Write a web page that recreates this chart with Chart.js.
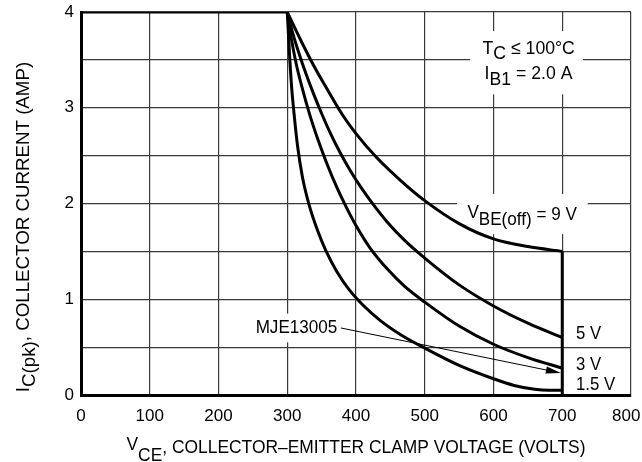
<!DOCTYPE html>
<html lang="en">
<head>
  <meta charset="UTF-8">
  <title>Reverse Bias Switching Safe Operating Area</title>
  <script src="https://cdn.jsdelivr.net/npm/chart.js"></script>
  <style>
    body {
      margin: 0;
      background: #fff;
    }
    #wrap {
      width: 642px;
      height: 462px;
    }
  </style>
</head>
<body>
  <div id="wrap">
    <canvas id="rbsoa" width="642" height="462"></canvas>
  </div>

  <script>
    // curves (VCE in volts, IC in amps)
    const vce15 = [300, 303, 306, 310, 315, 322, 332, 344, 356, 372, 390, 410, 435, 465, 500, 550, 600, 630, 660, 680, 700];
    const ic15  = [4.0, 3.6, 3.25, 2.93, 2.6, 2.28, 1.98, 1.72, 1.51, 1.29, 1.1, 0.94, 0.78, 0.63, 0.49, 0.31, 0.17, 0.1, 0.06, 0.05, 0.05];

    const vce3 = [300, 306, 313, 322, 333, 345, 358, 372, 386, 400, 420, 445, 470, 500, 550, 600, 650, 700];
    const ic3  = [4.0, 3.72, 3.46, 3.2, 2.92, 2.66, 2.41, 2.17, 1.96, 1.77, 1.54, 1.32, 1.14, 0.97, 0.72, 0.53, 0.39, 0.28];

    const vce5 = [300, 308, 317, 327, 338, 350, 363, 377, 392, 408, 425, 445, 470, 500, 550, 600, 650, 700];
    const ic5  = [4.0, 3.78, 3.57, 3.36, 3.15, 2.94, 2.73, 2.53, 2.34, 2.16, 1.99, 1.81, 1.62, 1.43, 1.15, 0.93, 0.75, 0.6];

    const vce9 = [300, 320, 340, 360, 380, 400, 430, 465, 500, 550, 600, 650, 700];
    const ic9  = [4.0, 3.7, 3.42, 3.17, 2.93, 2.73, 2.48, 2.24, 2.03, 1.79, 1.63, 1.55, 1.5];

    // flat 4 A limit and the 700 V clamp edge
    const limitVce = [0, 300];
    const limitIc  = [4, 4];
    const clampVce = [700, 700];
    const clampIc  = [1.5, 0];

    const curveNames = ['1.5 V', '3 V', '5 V', '9 V'];
    const xTicks = [0, 100, 200, 300, 400, 500, 600, 700, 800];
    const yTicks = [0, 1, 2, 3, 4];

    const FONT = '"Liberation Sans", Arial, sans-serif';

    const pts = (xs, ys) => xs.map((x, i) => ({ x: x, y: ys[i] }));

    function curve(label, xs, ys) {
      return {
        label: label,
        data: pts(xs, ys),
        borderColor: '#000',
        borderWidth: 3,
        pointRadius: 0,
        cubicInterpolationMode: 'monotone',
        fill: false
      };
    }

    // text with subscript pieces, squeezed a little to look like the narrow datasheet face
    function rich(ctx, parts, x, y, align, sx) {
      let w = 0;
      parts.forEach(p => { w += ctx.measureText(p.t).width; });
      ctx.save();
      ctx.translate(x, y);
      ctx.scale(sx, 1);
      let cx = align === 'center' ? -w / 2 : 0;
      parts.forEach(p => {
        ctx.fillText(p.t, cx, p.dy || 0);
        cx += ctx.measureText(p.t).width;
      });
      ctx.restore();
    }

    const whiteBoxes = [
      { x1: 566, x2: 730, y1: 3.14, y2: 3.8 },
      { x1: 547, x2: 737, y1: 1.68, y2: 2.1 },
      { x1: 245, x2: 381, y1: 0.55, y2: 0.85 }
    ];

    const notes = {
      id: 'notes',
      beforeDatasetsDraw(chart) {
        const { ctx, scales: { x, y } } = chart;
        ctx.save();
        ctx.fillStyle = '#fff';
        whiteBoxes.forEach(b => {
          const l = x.getPixelForValue(b.x1), r = x.getPixelForValue(b.x2);
          const t = y.getPixelForValue(b.y2), bt = y.getPixelForValue(b.y1);
          ctx.fillRect(l, t, r - l, bt - t);
        });
        ctx.restore();
      },
      afterDatasetsDraw(chart) {
        const { ctx, scales: { x, y } } = chart;
        const px = v => x.getPixelForValue(v), py = v => y.getPixelForValue(v);
        ctx.save();
        ctx.fillStyle = '#000';
        ctx.strokeStyle = '#000';
        ctx.font = '19px ' + FONT;
        ctx.textBaseline = 'alphabetic';
        ctx.textAlign = 'left';

        rich(ctx, [{ t: 'T' }, { t: 'C', dy: 5 }, { t: ' \u2264 100\u00B0C' }], px(584), py(3.56), 'left', 0.93);
        rich(ctx, [{ t: 'I' }, { t: 'B1', dy: 6 }, { t: ' = 2.0 A' }], px(587), py(3.30), 'left', 0.93);
        rich(ctx, [{ t: 'V', dy: -2 }, { t: 'BE(off)', dy: 5 }, { t: ' = 9 V' }], px(562), py(1.83), 'left', 0.9);

        rich(ctx, [{ t: 'MJE13005' }], px(254), py(0.65), 'left', 0.9);
        rich(ctx, [{ t: curveNames[2] }], px(720), py(0.58), 'left', 0.88);
        rich(ctx, [{ t: curveNames[1] }], px(720), py(0.26), 'left', 0.88);
        rich(ctx, [{ t: curveNames[0] }], px(720), py(0.05), 'left', 0.88);

        // leader arrow for the part number
        const x0 = px(378), y0 = py(0.70);
        const x1 = px(698), y1 = py(0.23);
        const a = Math.atan2(y1 - y0, x1 - x0);
        const c = Math.cos(a), s = Math.sin(a);
        ctx.lineWidth = 1;
        ctx.beginPath();
        ctx.moveTo(x0, y0);
        ctx.lineTo(x1 - 10 * c, y1 - 10 * s);
        ctx.stroke();
        ctx.beginPath();
        ctx.moveTo(x1, y1);
        ctx.lineTo(x1 - 15 * c + 3.5 * s, y1 - 15 * s - 3.5 * c);
        ctx.lineTo(x1 - 15 * c - 3.5 * s, y1 - 15 * s + 3.5 * c);
        ctx.closePath();
        ctx.fill();

        // axis titles
        const area = chart.chartArea;
        rich(ctx, [{ t: 'V', dy: -3 }, { t: 'CE', dy: 8 }, { t: ', COLLECTOR\u2013EMITTER CLAMP VOLTAGE (VOLTS)' }],
          (area.left + area.right) / 2, 453, 'center', 0.916);
        ctx.translate(29, 227);
        ctx.rotate(-Math.PI / 2);
        rich(ctx, [{ t: 'I' }, { t: 'C(pk)', dy: 6 }, { t: ', COLLECTOR CURRENT (AMP)' }], 0, 0, 'center', 0.985);
        ctx.restore();
      }
    };

    const ctx = document.getElementById('rbsoa').getContext('2d');

    new Chart(ctx, {
      type: 'line',
      data: {
        datasets: [
          curve(curveNames[0], vce15, ic15),
          curve(curveNames[1], vce3, ic3),
          curve(curveNames[2], vce5, ic5),
          curve(curveNames[3], vce9, ic9),
          { label: 'limit', data: pts(limitVce, limitIc), borderColor: '#000', borderWidth: 3, pointRadius: 0 },
          { label: 'clamp', data: pts(clampVce, clampIc), borderColor: '#000', borderWidth: 3, pointRadius: 0 }
        ]
      },
      options: {
        responsive: false,
        animation: false,
        layout: { padding: { left: 0, top: 12, right: 11, bottom: 0 }, autoPadding: false },
        plugins: {
          legend: { display: false },
          tooltip: { enabled: false }
        },
        scales: {
          x: {
            type: 'linear',
            min: 0,
            max: 800,
            afterFit: s => { s.height = 67; s.paddingLeft = 0; s.paddingRight = 0; },
            afterBuildTicks: s => { s.ticks = xTicks.map(v => ({ value: v })); },
            ticks: {
              color: '#000',
              font: { size: 17, family: FONT },
              padding: 11,
              maxRotation: 0,
              // last label sits a touch left so it stays on the page
              callback: v => (v === 800 ? '800  ' : String(v))
            },
            grid: { color: '#3a3a3a', lineWidth: 1.2, drawTicks: false },
            border: { color: '#000', width: 3 }
          },
          y: {
            min: 0,
            max: 4,
            afterFit: s => { s.width = 81; s.paddingTop = 0; s.paddingBottom = 0; },
            ticks: {
              stepSize: 0.5,
              color: '#000',
              font: { size: 17, family: FONT },
              padding: 7,
              callback: v => (yTicks.includes(v) ? String(v) : '')
            },
            grid: { color: '#3a3a3a', lineWidth: 1.2, drawTicks: false },
            border: { color: '#000', width: 3 }
          }
        }
      },
      plugins: [notes]
    });
  </script>
</body>
</html>
